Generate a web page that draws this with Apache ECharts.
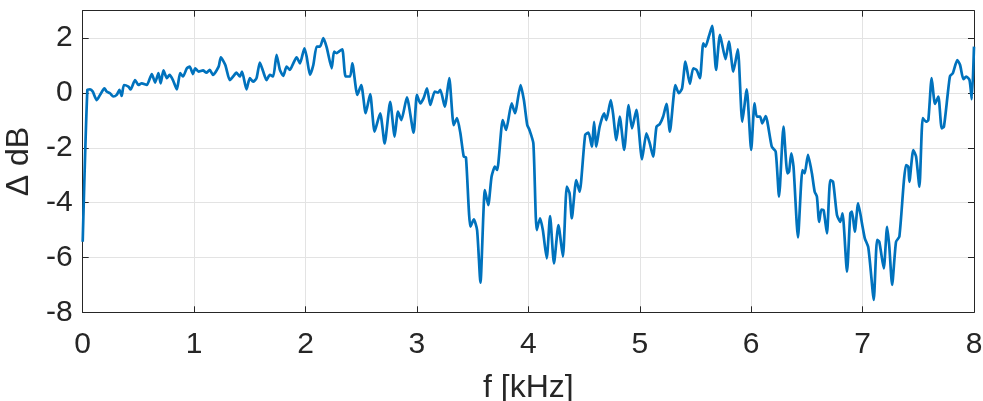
<!DOCTYPE html>
<html>
<head>
<meta charset="utf-8">
<script src="https://cdn.jsdelivr.net/npm/echarts@6/dist/echarts.min.js"></script>
<style>
html,body{margin:0;padding:0;background:#fff;}
#chart{width:983px;height:401px;}
</style>
</head>
<body>
<div id="chart"></div>
<script>
// Frequency (kHz) and level difference (dB)
const freqKHz = [
  0.000,0.042,0.066,0.090,0.126,0.156,0.195,0.215,0.245,0.275,0.305,0.330,0.350,0.370,0.410,0.430,0.470,0.500,0.530,0.575,
  0.620,0.650,0.680,0.700,0.725,0.755,0.780,0.810,0.845,0.875,0.900,0.935,0.960,0.990,1.010,1.040,1.080,1.110,1.140,1.170,
  1.220,1.240,1.280,1.320,1.350,1.380,1.410,1.430,1.470,1.500,1.530,1.560,1.590,1.620,1.650,1.680,1.710,1.740,1.770,1.800,
  1.830,1.860,1.890,1.920,1.950,1.990,2.010,2.040,2.070,2.100,2.130,2.160,2.190,2.235,2.256,2.280,2.300,2.330,2.360,2.400,
  2.420,2.465,2.500,2.540,2.580,2.620,2.670,2.710,2.760,2.800,2.830,2.860,2.910,2.970,3.000,3.030,3.060,3.090,3.120,3.160,
  3.190,3.210,3.250,3.290,3.330,3.360,3.390,3.420,3.440,3.480,3.510,3.540,3.570,3.610,3.640,3.670,3.700,3.720,3.770,3.800,
  3.850,3.880,3.930,3.960,3.990,4.010,4.045,4.075,4.105,4.130,4.165,4.195,4.230,4.270,4.310,4.345,4.370,4.390,4.430,4.460,
  4.510,4.540,4.570,4.590,4.610,4.640,4.680,4.700,4.740,4.760,4.790,4.820,4.860,4.900,4.930,4.970,5.020,5.060,5.090,5.120,
  5.150,5.180,5.210,5.240,5.270,5.320,5.350,5.380,5.410,5.450,5.480,5.510,5.540,5.570,5.590,5.620,5.650,5.685,5.720,5.770,
  5.800,5.840,5.880,5.920,5.960,6.000,6.030,6.050,6.080,6.100,6.130,6.185,6.220,6.250,6.290,6.325,6.340,6.360,6.380,6.420,
  6.460,6.480,6.510,6.545,6.570,6.590,6.610,6.630,6.650,6.680,6.710,6.735,6.770,6.800,6.820,6.860,6.890,6.905,6.930,6.960,
  7.000,7.020,7.050,7.070,7.100,7.130,7.150,7.190,7.220,7.240,7.265,7.300,7.330,7.370,7.390,7.410,7.420,7.455,7.480,7.510,
  7.540,7.570,7.590,7.620,7.650,7.680,7.710,7.730,7.765,7.785,7.810,7.850,7.875,7.905,7.930,7.960,7.980,8.000
];
const deltaDB = [
  -5.43,0.11,0.13,0.05,-0.26,-0.07,0.17,0.05,-0.01,-0.13,-0.07,0.11,-0.11,0.29,0.23,0.13,0.47,0.29,0.35,0.29,
  0.69,0.38,0.72,0.35,0.82,0.54,0.66,0.47,0.13,0.72,0.60,0.90,0.96,0.69,0.90,0.78,0.82,0.74,0.84,0.66,
  0.96,1.30,1.02,0.47,0.60,0.74,0.60,0.78,0.13,0.54,0.41,0.54,1.11,0.78,0.47,0.66,0.60,1.39,0.84,0.62,
  0.96,0.84,1.08,1.30,1.08,1.63,1.33,0.66,1.02,1.69,1.69,2.00,1.66,0.90,1.51,1.45,1.51,1.59,0.60,0.60,
  1.08,-0.07,0.29,-0.74,-0.04,-1.41,-0.74,-1.84,-0.32,-1.59,-0.68,-0.99,-0.16,-1.45,-0.07,-0.38,-0.19,0.17,-0.44,0.05,
  0.01,0.11,-0.50,0.54,-1.17,-0.92,-1.47,-2.32,-2.35,-4.88,-4.61,-5.00,-6.92,-3.54,-4.09,-3.05,-2.69,-2.81,-0.99,-1.35,
  -0.38,-0.74,0.29,-0.26,-1.17,-1.35,-1.84,-5.00,-4.57,-5.00,-6.03,-4.49,-6.22,-4.82,-5.97,-3.42,-3.66,-4.57,-3.18,-3.60,
  -1.53,-1.45,-1.96,-1.05,-1.96,-1.23,-0.74,-0.99,-0.26,-0.74,-1.72,-0.86,-2.08,-0.44,-1.29,-0.62,-2.42,-1.47,-1.84,-2.32,
  -1.23,-1.13,-0.86,-0.40,-1.41,0.29,-0.01,0.17,1.14,0.33,0.90,0.84,0.54,1.81,1.69,2.06,2.45,0.84,2.12,1.23,
  1.87,0.78,1.59,-1.05,0.13,-2.08,-0.38,-0.86,-0.86,-1.11,-0.84,-1.96,-2.14,-3.78,-1.23,-2.93,-2.87,-2.20,-2.69,-5.27,
  -2.81,-2.93,-2.26,-2.93,-3.60,-3.78,-4.70,-4.25,-4.27,-5.12,-3.18,-3.24,-4.45,-4.70,-4.39,-6.52,-4.39,-4.33,-5.06,-4.03,
  -4.88,-5.30,-5.61,-6.34,-7.55,-5.36,-5.43,-6.40,-4.88,-5.61,-7.00,-5.43,-5.24,-3.24,-2.63,-2.69,-3.24,-2.08,-2.32,-3.42,
  -0.92,-1.05,-0.99,0.54,-0.40,-0.13,-1.29,-1.23,-0.01,0.62,0.72,1.20,1.02,0.50,0.60,0.47,-0.23,1.69
];
const xTicks = [0,1,2,3,4,5,6,7,8];
const yTicks = [-8,-6,-4,-2,0,2];

const FONT = '"Liberation Sans", Arial, Helvetica, sans-serif';
const AX = '#262626';
const GRID = '#e3e3e3';

const chart = echarts.init(document.getElementById('chart'), null, {renderer:'canvas'});
const pts = freqKHz.map((f,i)=>[f, deltaDB[i]]);

const baseTick = {show:true, inside:true, length:6, lineStyle:{color:AX, width:1}};
chart.setOption({
  animation:false,
  backgroundColor:'#fff',
  grid:{left:82.7, right:9, top:10.7, bottom:88.7, containLabel:false, outerBoundsMode:'none'},
  xAxis:[{
    type:'value', min:xTicks[0], max:xTicks[xTicks.length-1], interval:1,
    name:'f [kHz]', nameLocation:'middle', nameGap:60,
    nameTextStyle:{fontFamily:FONT, fontSize:32, color:AX},
    axisLine:{show:true, onZero:false, lineStyle:{color:AX, width:1}},
    axisTick:baseTick,
    axisLabel:{fontFamily:FONT, fontSize:30, color:AX, margin:17},
    splitLine:{show:true, lineStyle:{color:GRID, width:1}}
  },{
    type:'value', position:'top', min:xTicks[0], max:xTicks[xTicks.length-1], interval:1,
    axisLine:{show:true, onZero:false, lineStyle:{color:AX, width:1}},
    axisTick:baseTick, axisLabel:{show:false}, splitLine:{show:false}
  }],
  yAxis:[{
    type:'value', min:-8, max:3, interval:2,
    name:'\u0394 dB', nameLocation:'middle', nameGap:44,
    nameTextStyle:{fontFamily:FONT, fontSize:32, color:AX},
    axisLine:{show:true, onZero:false, lineStyle:{color:AX, width:1}},
    axisTick:baseTick,
    axisLabel:{fontFamily:FONT, fontSize:30, color:AX, margin:10, showMaxLabel:false,
      formatter:v=> yTicks.includes(v) ? String(v) : ''},
    splitLine:{show:true, lineStyle:{color:GRID, width:1}}
  },{
    type:'value', position:'right', min:-8, max:3, interval:2,
    axisLine:{show:true, onZero:false, lineStyle:{color:AX, width:1}},
    axisTick:baseTick, axisLabel:{show:false}, splitLine:{show:false}
  }],
  series:[{
    type:'line', data:pts, xAxisIndex:0, yAxisIndex:0,
    showSymbol:false, symbol:'none', smooth:0.2,
    lineStyle:{color:'#0072BD', width:2.7},
    clip:true
  }]
});
</script>
</body>
</html>
